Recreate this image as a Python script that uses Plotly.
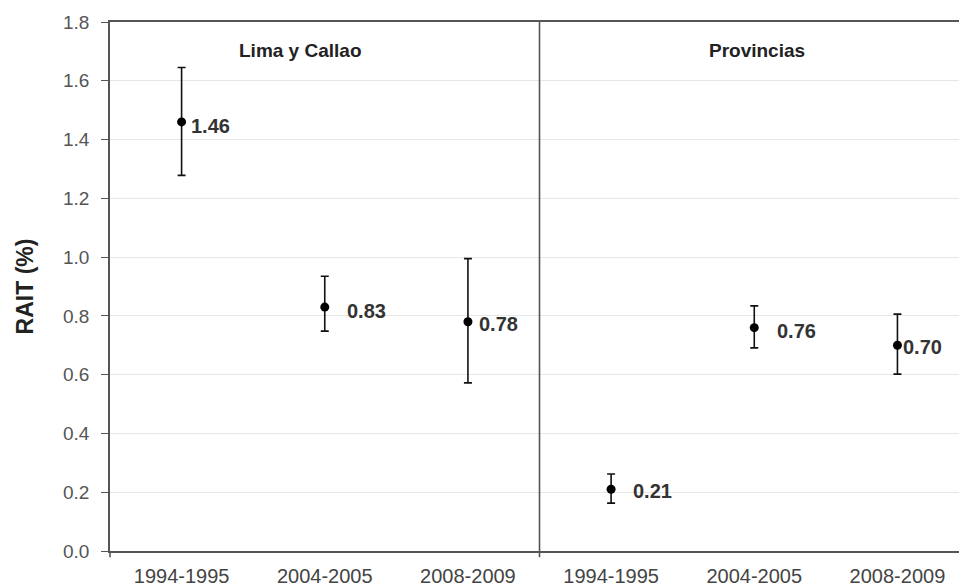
import plotly.graph_objects as go

periods = ["1994-1995", "2004-2005", "2008-2009", "1994-1995", "2004-2005", "2008-2009"]
regions = ["Lima y Callao", "Provincias"]
values = [1.46, 0.83, 0.78, 0.21, 0.76, 0.70]
upper = [1.645, 0.935, 0.995, 0.262, 0.834, 0.806]
lower = [1.278, 0.748, 0.572, 0.163, 0.691, 0.602]
labels = ["1.46", "0.83", "0.78", "0.21", "0.76", "0.70"]

xpos = list(range(len(values)))
err_plus = [u - v for u, v in zip(upper, values)]
err_minus = [v - l for v, l in zip(values, lower)]

x0, x1 = -0.5, 5.43
label_dx = [7, 20, 9, 20, 21, 4]
label_dy = [-4, -4, -2, -2, -3, -2]

FONT = "Liberation Sans, Arial"

fig = go.Figure()
fig.add_trace(go.Scatter(
    x=xpos, y=values, mode="markers",
    marker=dict(color="black", size=9),
    error_y=dict(type="data", symmetric=False, array=err_plus, arrayminus=err_minus,
                 color="#111111", thickness=1.6, width=4),
    showlegend=False, hoverinfo="skip",
))

for xi, v, t, dx, dy in zip(xpos, values, labels, label_dx, label_dy):
    fig.add_annotation(x=xi, y=v, text="<b>%s</b>" % t, showarrow=False,
                       xanchor="left", yanchor="middle", xshift=dx, yshift=dy,
                       font=dict(family=FONT, size=20, color="#333333"))

def px(xv):
    return (xv - x0) / (x1 - x0)

# divider between panels
fig.add_shape(type="line", xref="paper", yref="paper", x0=px(2.5), x1=px(2.5), y0=-0.012, y1=1,
              line=dict(color="#555555", width=1.6))
fig.add_shape(type="line", xref="paper", yref="paper", x0=0, x1=0, y0=-0.012, y1=0,
              line=dict(color="#555555", width=1.6))

fig.add_annotation(xref="paper", yref="paper", x=px(0.83), y=0.947, text="<b>%s</b>" % regions[0],
                   showarrow=False, xanchor="center", yanchor="middle",
                   font=dict(family=FONT, size=19, color="#222222"))
fig.add_annotation(xref="paper", yref="paper", x=px(4.02), y=0.947, text="<b>%s</b>" % regions[1],
                   showarrow=False, xanchor="center", yanchor="middle",
                   font=dict(family=FONT, size=19, color="#222222"))

fig.update_layout(
    width=959, height=588,
    margin=dict(l=110, r=0, t=22, b=37),
    plot_bgcolor="white", paper_bgcolor="white",
    font=dict(family=FONT, color="#444444"),
    xaxis=dict(range=[x0, x1], tickvals=xpos, ticktext=periods, showgrid=False, zeroline=False,
               showline=True, linecolor="#555555", linewidth=1.6, mirror=True, ticks="",
               ticklabelstandoff=6,
               tickfont=dict(size=20, color="#444444"), fixedrange=True),
    yaxis=dict(range=[0, 1.8], tickvals=[0, 0.2, 0.4, 0.6, 0.8, 1.0, 1.2, 1.4, 1.6, 1.8],
               tickformat=".1f", showgrid=True, gridcolor="#e6e6e6", gridwidth=1, zeroline=False,
               showline=True, linecolor="#555555", linewidth=1.6, ticks="outside", ticklen=7,
               tickcolor="#555555", tickwidth=1.4, ticklabelstandoff=8,
               tickfont=dict(size=19, color="#555555"),
               title=dict(text="<b>RAIT (%)</b>", font=dict(size=23, color="#222222"), standoff=23)),
)

fig.write_html("out.html")
